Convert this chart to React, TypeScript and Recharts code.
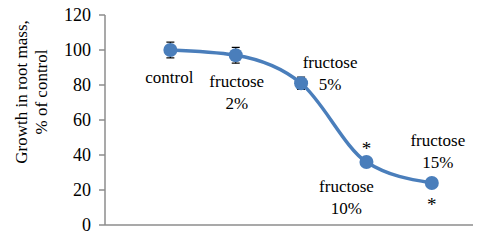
import React from "react";
import {
  LineChart,
  Line,
  XAxis,
  YAxis,
  ErrorBar,
  LabelList,
} from "recharts";

// treatments along the x axis
const treatments = ["control", "fructose 2%", "fructose 5%", "fructose 10%", "fructose 15%"];
// growth in root mass, % of control
const growth = [100, 97, 81, 36, 24];
const errors = [4.5, 4.5, 3.5, 1.5, 1];
const significant = [false, false, false, true, true];
const yTicks = [0, 20, 40, 60, 80, 100, 120];

const data = treatments.map((name, i) => ({
  x: i + 1,
  name,
  growth: growth[i],
  err: errors[i],
}));

// label placement relative to each point (dx, dy of first text line, star dy)
const labelOffsets = [
  { dx: -1, dy: 33, star: 0 },
  { dx: 1, dy: 32, star: 0 },
  { dx: 29, dy: -15, star: 0 },
  { dx: -20, dy: 30, star: -7 },
  { dx: 6, dy: -37, star: 28 },
];

const BLUE = "#4A7EBB";
const GRAY = "#8C8C8C";
const FONT = "Liberation Serif";

const renderLabel = (props: any) => {
  const { x, y, index } = props;
  const off = labelOffsets[index];
  const parts = treatments[index].split(" ");
  return (
    <g key={`lbl-${index}`}>
      <text
        x={x + off.dx}
        y={y + off.dy}
        textAnchor="middle"
        fontFamily={FONT}
        fontSize={17}
        fill="#000"
      >
        {parts.map((p, k) => (
          <tspan key={k} x={x + off.dx} dy={k === 0 ? 0 : 22}>
            {p}
          </tspan>
        ))}
      </text>
      {significant[index] && (
        <text
          x={x}
          y={y + off.star}
          textAnchor="middle"
          fontFamily={FONT}
          fontSize={19}
          fill="#000"
        >
          *
        </text>
      )}
    </g>
  );
};

const YLabel = () => {
  const cx = 31;
  const cy = 92;
  return (
    <text
      transform={`rotate(-90, ${cx}, ${cy})`}
      x={cx}
      y={cy}
      textAnchor="middle"
      fontFamily={FONT}
      fontSize={17}
      fill="#000"
    >
      <tspan x={cx} dy={-4}>Growth in root mass,</tspan>
      <tspan x={cx} dy={20}>% of control</tspan>
    </text>
  );
};

export default function App() {
  return (
    <div style={{ position: "absolute", left: 0, top: 0, background: "#fff" }}>
      <LineChart
        width={484}
        height={242}
        data={data}
        margin={{ top: 15, right: 11, bottom: 16, left: 0 }}
      >
        <XAxis
          dataKey="x"
          type="number"
          domain={[0, 5.63]}
          tick={false}
          tickLine={false}
          axisLine={{ stroke: GRAY, strokeWidth: 1.5 }}
          height={1}
        />
        <YAxis
          domain={[0, 120]}
          ticks={yTicks}
          width={105}
          interval={0}
          axisLine={{ stroke: GRAY, strokeWidth: 1.5 }}
          tickLine={{ stroke: GRAY, strokeWidth: 1.5 }}
          tickSize={6}
          tickMargin={8}
          tick={{ fill: "#000", fontSize: 18, fontFamily: FONT }}
          label={<YLabel />}
        />
        <Line
          type="monotone"
          dataKey="growth"
          stroke={BLUE}
          strokeWidth={3.5}
          dot={{ r: 7, fill: BLUE, stroke: BLUE, strokeWidth: 0 }}
          activeDot={false}
          isAnimationActive={false}
        >
          <ErrorBar dataKey="err" width={4} stroke="#000" strokeWidth={1.2} direction="y" />
          <LabelList dataKey="growth" content={renderLabel} />
        </Line>
      </LineChart>
    </div>
  );
}
